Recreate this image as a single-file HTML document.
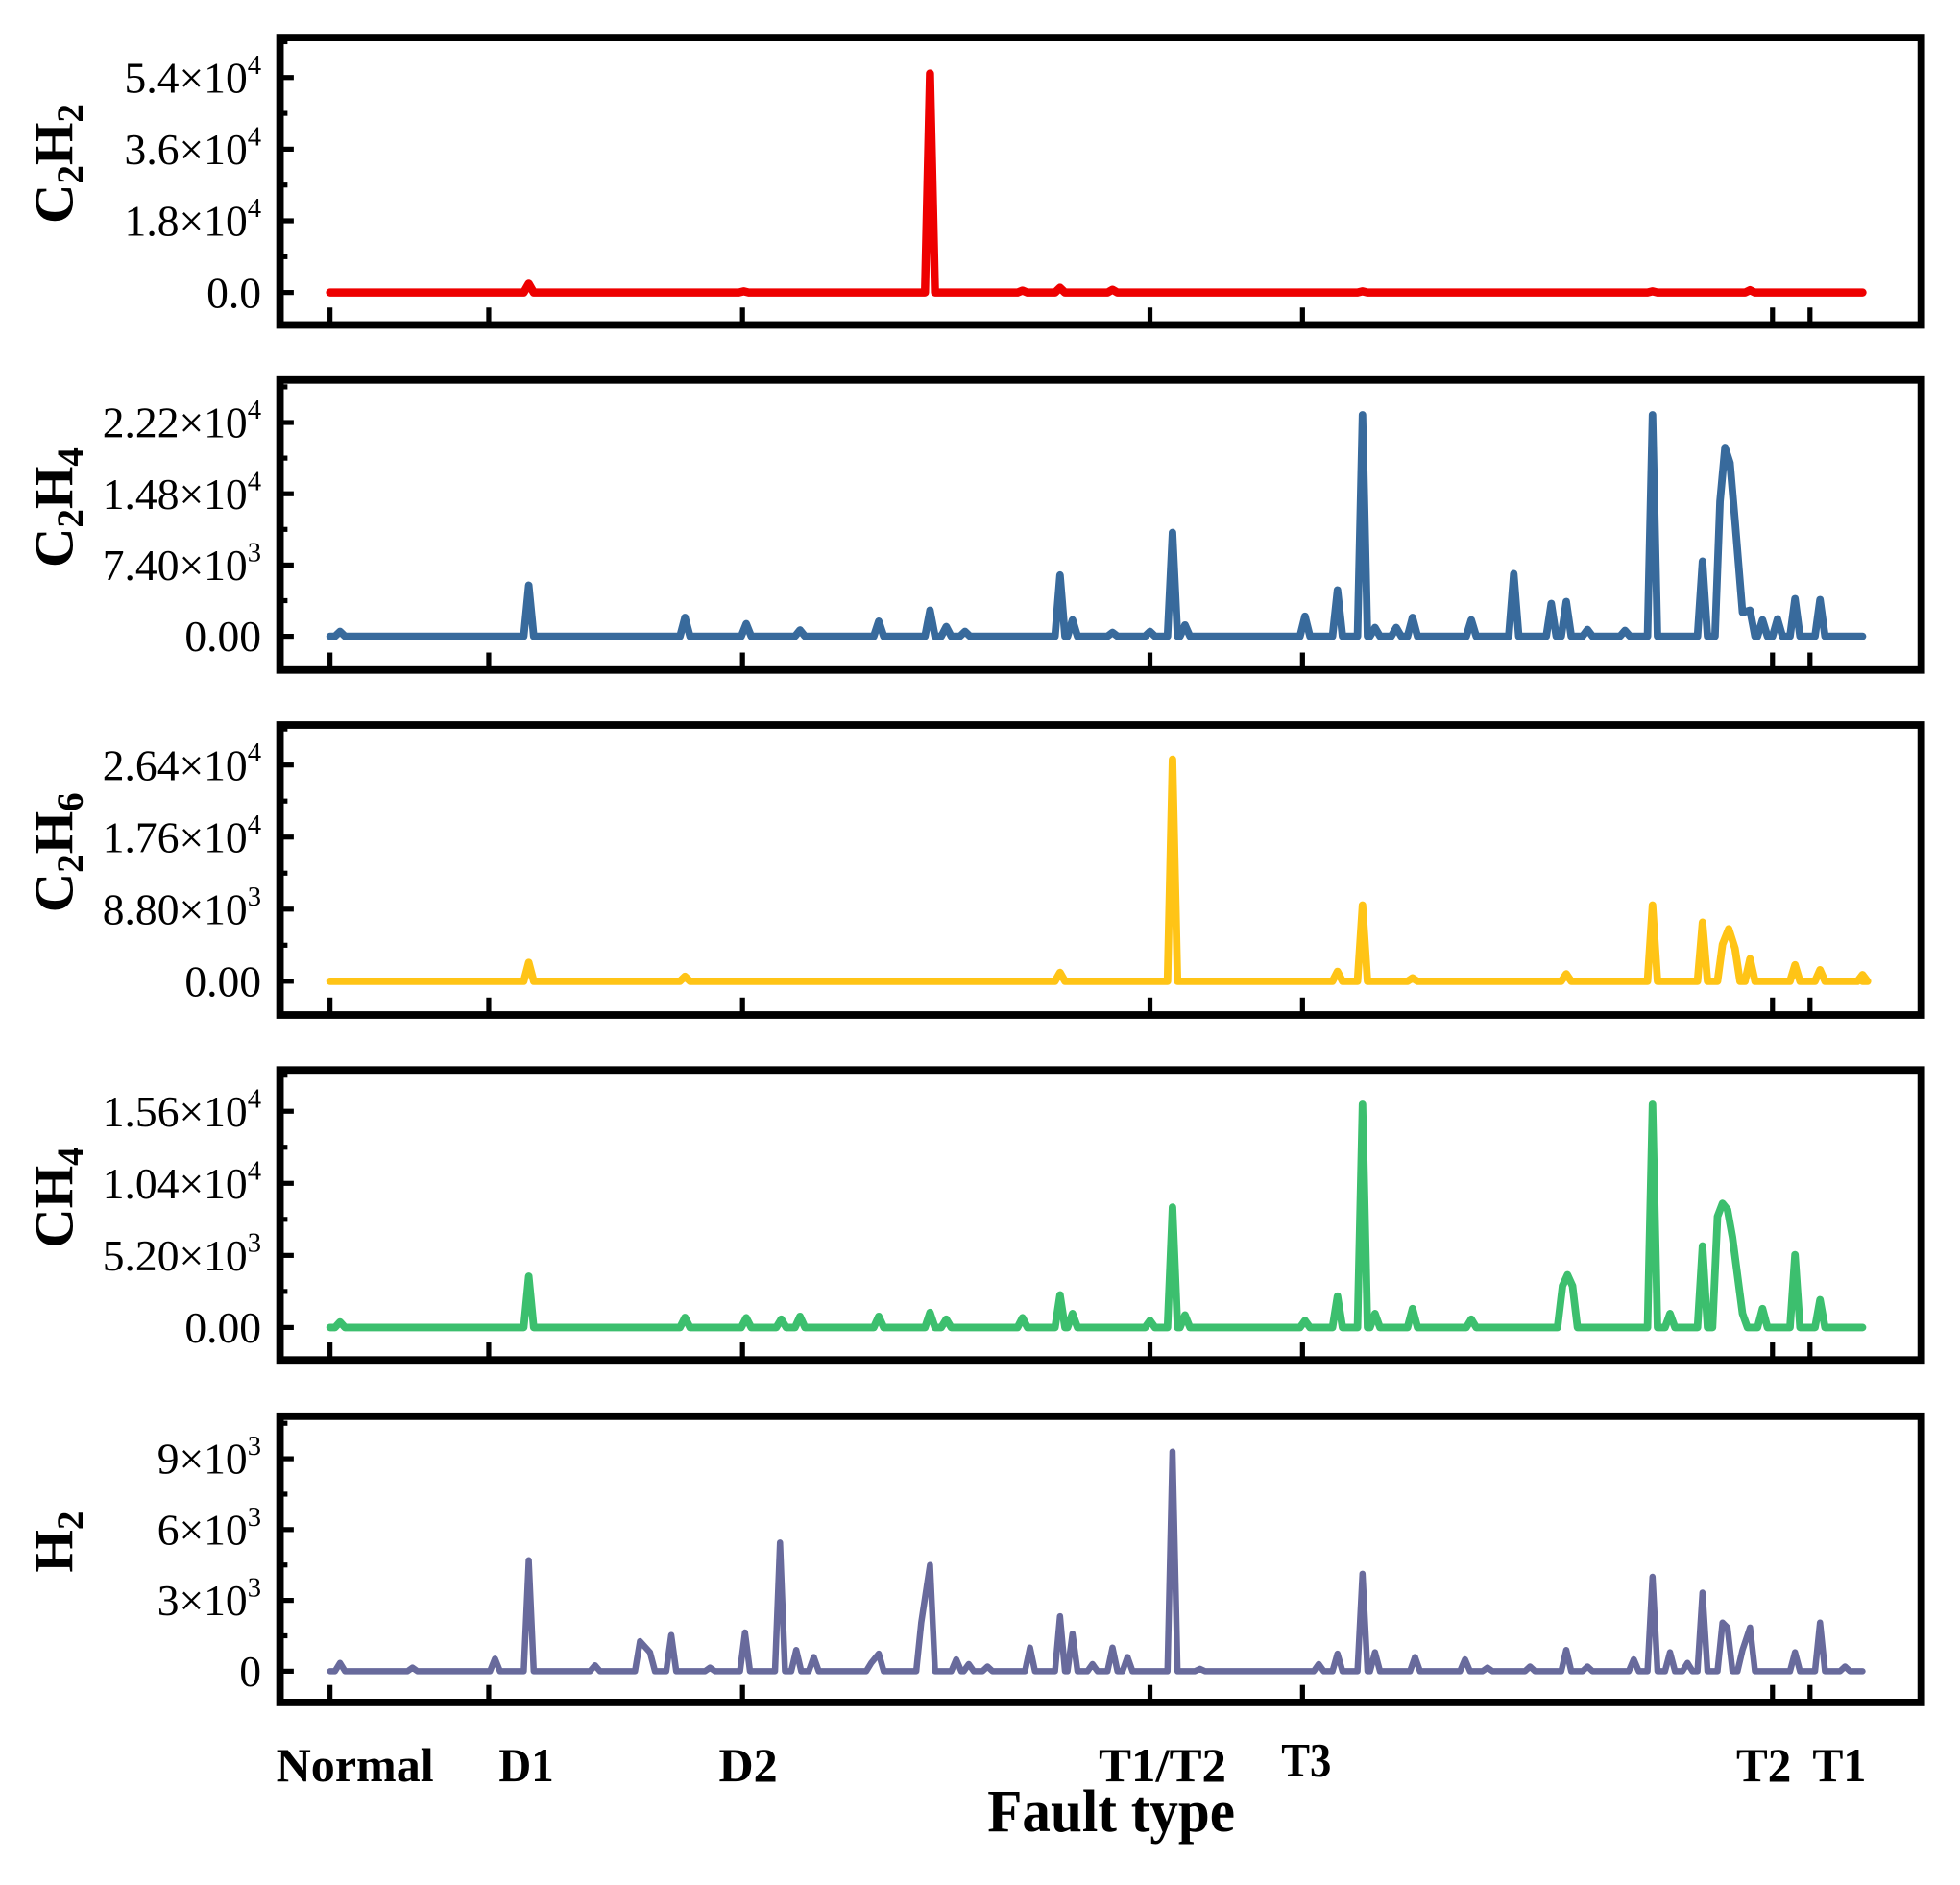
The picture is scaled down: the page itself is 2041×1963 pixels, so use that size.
<!DOCTYPE html>
<html><head><meta charset="utf-8"><style>
html,body{margin:0;padding:0;background:#fff;}
svg{display:block;font-family:"Liberation Serif",serif;}
</style></head><body>
<svg id="chart" width="2041" height="1963" viewBox="0 0 1568 1508" xmlns="http://www.w3.org/2000/svg">
<g id="xlabels" font-weight="bold" font-size="38">
<text x="221" y="1425" textLength="126" lengthAdjust="spacingAndGlyphs">Normal</text>
<text x="399" y="1425" textLength="44" lengthAdjust="spacingAndGlyphs">D1</text>
<text x="575" y="1425" textLength="47" lengthAdjust="spacingAndGlyphs">D2</text>
<text x="879" y="1425" textLength="102" lengthAdjust="spacingAndGlyphs">T1/T2</text>
<text x="1025" y="1421" textLength="40" lengthAdjust="spacingAndGlyphs">T3</text>
<text x="1389" y="1425" textLength="44" lengthAdjust="spacingAndGlyphs">T2</text>
<text x="1450" y="1425" textLength="43" lengthAdjust="spacingAndGlyphs">T1</text>
</g>
<text x="790" y="1465" font-size="48" font-weight="bold" textLength="198" lengthAdjust="spacingAndGlyphs">Fault type</text>
</svg>
<script>
const faultTicks = [264, 391, 594, 920, 1042, 1418, 1448];
const sampleDomain = [264, 1490];

const c2h2X = [423, 595, 744, 818, 848, 890, 1090, 1322, 1400];
const c2h2V = [2200, 300, 55000, 500, 1200, 700, 300, 300, 600];
const c2h2Ticks = [0, 18000, 36000, 54000];
const c2h2TickLabels = ["0.0", "1.8×10|4", "3.6×10|4", "5.4×10|4"];

const c2h4X = [272, 423, 548, 597, 640, 703, 744, 757, 772, 848, 858, 890, 920, 938, 948, 1044, 1070, 1090, 1100, 1117, 1130, 1177, 1211, 1241, 1253, 1270, 1300, 1322, 1362, 1376, 1380, 1384, 1388, 1394, 1400, 1410, 1422, 1436, 1456];
const c2h4V = [500, 5300, 1950, 1300, 650, 1560, 2700, 1000, 500, 6360, 1700, 400, 500, 10780, 1170, 2080, 4800, 23000, 900, 900, 1950, 1700, 6500, 3400, 3600, 700, 600, 23000, 7800, 14000, 19600, 18000, 12000, 2470, 2700, 1700, 1800, 3900, 3800];
const c2h4Ticks = [0, 7400, 14800, 22200];
const c2h4TickLabels = ["0.00", "7.40×10|3", "1.48×10|4", "2.22×10|4"];

const c2h6X = [423, 548, 848, 938, 1070, 1090, 1130, 1253, 1322, 1362, 1378, 1383, 1388, 1400, 1436, 1456, 1490];
const c2h6V = [2300, 600, 1070, 27100, 1200, 9300, 400, 900, 9300, 7200, 4500, 6400, 4000, 2750, 2000, 1400, 800];
const c2h6Ticks = [0, 8800, 17600, 26400];
const c2h6TickLabels = ["0.00", "8.80×10|3", "1.76×10|4", "2.64×10|4"];

const ch4X = [272, 423, 548, 597, 625, 640, 703, 744, 757, 818, 848, 858, 920, 938, 948, 1044, 1070, 1090, 1100, 1130, 1177, 1250, 1254, 1258, 1322, 1336, 1362, 1374, 1378, 1382, 1386, 1394, 1410, 1436, 1456];
const ch4V = [400, 3700, 720, 700, 600, 800, 800, 1080, 600, 700, 2350, 1000, 500, 8680, 900, 500, 2260, 16100, 1000, 1360, 600, 3000, 3800, 3000, 16100, 1000, 5880, 8000, 8950, 8500, 6500, 1000, 1360, 5250, 2000];
const ch4Ticks = [0, 5200, 10400, 15600];
const ch4TickLabels = ["0.00", "5.20×10|3", "1.04×10|4", "1.56×10|4"];

const h2X = [272, 330, 396, 423, 476, 512, 520, 537, 568, 596, 624, 637, 651, 697, 703, 737, 744, 765, 775, 790, 824, 848, 858, 874, 890, 902, 938, 960, 1055, 1070, 1090, 1100, 1132, 1172, 1190, 1224, 1253, 1270, 1307, 1322, 1336, 1350, 1362, 1378, 1382, 1394, 1400, 1436, 1456, 1476];
const h2V = [350, 150, 530, 4700, 250, 1270, 800, 1530, 150, 1640, 5450, 900, 600, 350, 740, 2060, 4500, 500, 300, 200, 1000, 2330, 1590, 300, 1000, 600, 9300, 100, 300, 740, 4130, 800, 600, 500, 150, 200, 900, 200, 500, 4000, 800, 350, 3330, 2060, 1850, 900, 1850, 800, 2060, 200];
const h2Ticks = [0, 3000, 6000, 9000];
const h2TickLabels = ["0", "3×10|3", "6×10|3", "9×10|3"];

const NS = "http://www.w3.org/2000/svg";
const svg = document.getElementById('chart');
function mk(tag, attrs, parent) {
  const e = document.createElementNS(NS, tag);
  for (const k in attrs) e.setAttribute(k, attrs[k]);
  (parent || svg).appendChild(e);
  return e;
}
const L = 224, R = 1537;
function xScale(s) { return 264 + (s - sampleDomain[0]) * (1490 - 264) / (sampleDomain[1] - sampleDomain[0]); }

const panels = [
  {name: 'c2h2', X: c2h2X, V: c2h2V, ticks: c2h2Ticks, labels: c2h2TickLabels, top: 30, bot: 260, zeroY: 234, tickY: 62, color: '#ee0000', sub: ['C', '2', 'H', '2'], lw: 6.5},
  {name: 'c2h4', X: c2h4X, V: c2h4V, ticks: c2h4Ticks, labels: c2h4TickLabels, top: 304, bot: 536, zeroY: 509, tickY: 338, color: '#386a9c', sub: ['C', '2', 'H', '4'], lw: 6},
  {name: 'c2h6', X: c2h6X, V: c2h6V, ticks: c2h6Ticks, labels: c2h6TickLabels, top: 580, bot: 812, zeroY: 785, tickY: 612, color: '#ffc416', sub: ['C', '2', 'H', '6'], lw: 6},
  {name: 'ch4', X: ch4X, V: ch4V, ticks: ch4Ticks, labels: ch4TickLabels, top: 856, bot: 1088, zeroY: 1062, tickY: 889, color: '#3cbf6e', sub: ['CH', '4'], lw: 6},
  {name: 'h2', X: h2X, V: h2V, ticks: h2Ticks, labels: h2TickLabels, top: 1133, bot: 1362, zeroY: 1337, tickY: 1167, color: '#686a9c', sub: ['H', '2'], lw: 5}
];

panels.forEach(p => {
  const g = mk('g', {});
  
  
  const maxT = p.ticks[p.ticks.length - 1];
  const y = v => p.zeroY + (p.tickY - p.zeroY) * v / maxT;
  let d = 'M' + xScale(sampleDomain[0]) + ',' + y(0);
  const w = 4;
  for (let i = 0; i < p.X.length; i++) {
    const xi = p.X[i];
    const prevFar = i === 0 || xi - p.X[i - 1] > 2 * w;
    const nextFar = i === p.X.length - 1 || p.X[i + 1] - xi > 2 * w;
    if (prevFar) d += ' L' + xScale(xi - w) + ',' + y(0);
    d += ' L' + xScale(xi) + ',' + y(p.V[i]);
    if (nextFar) d += ' L' + xScale(xi + w) + ',' + y(0);
  }
  d += ' L' + xScale(sampleDomain[1]) + ',' + y(0);
  const path = mk('path', {d: d, fill: 'none', stroke: p.color, 'stroke-width': p.lw, 'stroke-linejoin': 'round', 'stroke-linecap': 'round'}, g);
  
  
  const step = p.ticks[1] - p.ticks[0];
  for (let v = -step / 2; y(v) > p.top; v += step / 2) {
    if (y(v) >= p.bot) continue;
    const major = Math.abs((v / step) - Math.round(v / step)) < 1e-6;
    const t = mk('line', {x1: L, x2: L + (major ? 11 : 6), y1: y(v), y2: y(v), stroke: '#000', 'stroke-width': 4}, g);
    
    
  }
  p.ticks.forEach((v, i) => {
    const parts = p.labels[i].split('|');
    const tx = mk('text', {x: 209, y: y(v) + 12, 'font-size': 35, 'text-anchor': 'end'}, g);
    
    
    tx.appendChild(document.createTextNode(parts[0]));
    if (parts[1]) {
      const sp = mk('tspan', {dy: -15, 'font-size': 22}, tx);
      sp.textContent = parts[1];
    }
  });
  faultTicks.forEach(s => {
    const t = mk('line', {x1: xScale(s), x2: xScale(s), y1: p.bot - 14, y2: p.bot, stroke: '#000', 'stroke-width': 4}, g);
    
    
  });
  const fr = mk('rect', {x: L, y: p.top, width: R - L, height: p.bot - p.top, fill: 'none', stroke: '#000', 'stroke-width': 6}, g);
  
  
  const cy = (p.top + p.bot) / 2 - 14;
  const tt = mk('text', {x: 0, y: 0, 'font-size': 44, 'font-weight': 'bold', 'text-anchor': 'middle', transform: 'translate(58,' + cy + ') rotate(-90)'}, g);
  
  
  for (let i = 0; i < p.sub.length; i++) {
    const sp = mk('tspan', {}, tt);
    if (/\d/.test(p.sub[i])) { sp.setAttribute('font-size', 30); sp.setAttribute('dy', 8); }
    else if (i > 0) { sp.setAttribute('dy', -8); }
    sp.textContent = p.sub[i];
  }
});
</script>
</body></html>
